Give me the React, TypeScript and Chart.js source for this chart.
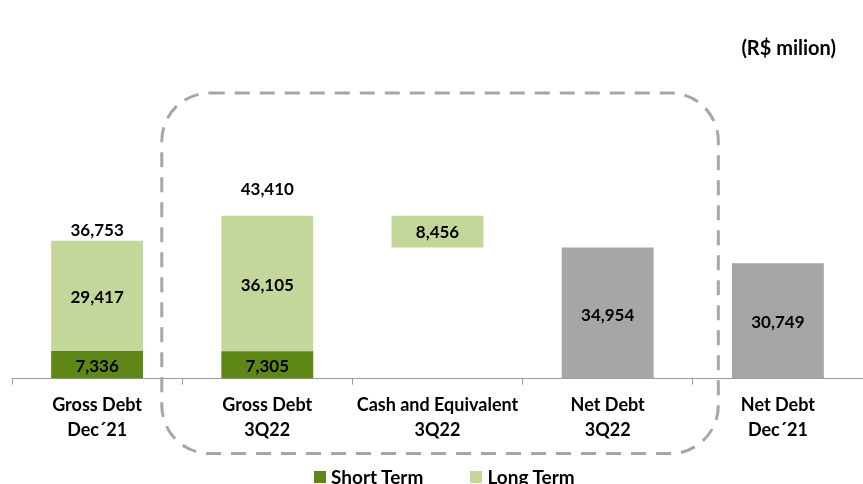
import React, { useEffect, useRef } from "react";
import { Chart, registerables } from "chart.js";

Chart.register(...registerables);

const categories: string[][] = [
  ["Gross Debt", "Dec´21"],
  ["Gross Debt", "3Q22"],
  ["Cash and Equivalent", "3Q22"],
  ["Net Debt", "3Q22"],
  ["Net Debt", "Dec´21"],
];
const shortTerm: (number | null)[] = [7336, 7305, null, null, null];
const longTerm: (number | null)[] = [29417, 36105, null, null, null];
const cashAndEquivalent = 8456;
const netDebt: (number | null)[] = [null, null, null, 34954, 30749];
const grossTotals: (number | null)[] = [36753, 43410, null, null, null];

const DARK_GREEN = "#5E8717";
const LIGHT_GREEN = "#C4D79B";
const GRAY = "#A6A6A6";
const FONT = "Lato, 'Open Sans', sans-serif";

const fmt = (v: number) => v.toLocaleString("en-US");

export default function App() {
  const ref = useRef<HTMLCanvasElement | null>(null);

  useEffect(() => {
    document.body.style.margin = "0";
    const canvas = ref.current;
    if (!canvas) return;

    const longSegments: any[] = categories.map((_, i) => {
      if (shortTerm[i] != null && longTerm[i] != null) {
        return [shortTerm[i] as number, (shortTerm[i] as number) + (longTerm[i] as number)];
      }
      if (i === 2) {
        const top = grossTotals[1] as number;
        return [top - cashAndEquivalent, top];
      }
      return null;
    });
    const shortSegments: any[] = shortTerm.map((v) => (v == null ? null : [0, v]));

    const labelsPlugin = {
      id: "valueLabels",
      afterDatasetsDraw(chart: any) {
        const ctx = chart.ctx;
        const x = chart.scales.x;
        const y = chart.scales.y;
        ctx.save();
        ctx.fillStyle = "#000";
        ctx.font = `bold 17px ${FONT}`;
        ctx.textAlign = "center";
        ctx.textBaseline = "middle";
        categories.forEach((_, i) => {
          const cx = x.getPixelForValue(i);
          const s = shortTerm[i];
          const l = longTerm[i];
          if (s != null) ctx.fillText(fmt(s), cx, y.getPixelForValue(s / 2) + 2);
          if (s != null && l != null) ctx.fillText(fmt(l), cx, y.getPixelForValue(s + l / 2) + 2);
          const t = grossTotals[i];
          if (t != null) {
            const lift = i === 1 ? 26 : 10;
            ctx.fillText(fmt(t), cx, y.getPixelForValue(t) - lift);
          }
          if (i === 2) {
            const top = grossTotals[1] as number;
            ctx.fillText(fmt(cashAndEquivalent), cx, y.getPixelForValue(top - cashAndEquivalent / 2) + 1);
          }
          const n = netDebt[i];
          if (n != null) ctx.fillText(fmt(n), cx, y.getPixelForValue(n / 2) + 2);
        });
        ctx.restore();
      },
    };

    const framePlugin = {
      id: "dashedFrame",
      afterDraw(chart: any) {
        const ctx = chart.ctx;
        const x = chart.scales.x;
        const area = chart.chartArea;
        const w = x.getPixelForValue(1) - x.getPixelForValue(0);
        const left = x.getPixelForValue(1) - 0.62 * w;
        const right = x.getPixelForValue(3) + 0.65 * w;
        const top = area.top - 98;
        const bottom = area.bottom + 75;
        const r = 48;
        ctx.save();
        ctx.strokeStyle = GRAY;
        ctx.lineWidth = 3;
        ctx.setLineDash([15, 10]);
        ctx.beginPath();
        ctx.moveTo(left + r, top);
        ctx.lineTo(right - r, top);
        ctx.arcTo(right, top, right, top + r, r);
        ctx.lineTo(right, bottom - r);
        ctx.arcTo(right, bottom, right - r, bottom, r);
        ctx.lineTo(left + r, bottom);
        ctx.arcTo(left, bottom, left, bottom - r, r);
        ctx.lineTo(left, top + r);
        ctx.arcTo(left, top, left + r, top, r);
        ctx.closePath();
        ctx.stroke();
        ctx.restore();
      },
    };

    const chart = new Chart(canvas, {
      type: "bar",
      data: {
        labels: categories,
        datasets: [
          { label: "Short Term", data: shortSegments, backgroundColor: DARK_GREEN, grouped: false } as any,
          { label: "Long Term", data: longSegments, backgroundColor: LIGHT_GREEN, grouped: false } as any,
          { label: "Net Debt", data: netDebt, backgroundColor: GRAY, grouped: false } as any,
        ],
      },
      options: {
        animation: false,
        responsive: false,
        maintainAspectRatio: false,
        datasets: { bar: { barPercentage: 0.54, categoryPercentage: 1 } },
        layout: { padding: { left: 12, right: 0, top: 191, bottom: 33 } },
        plugins: {
          legend: { display: false },
          tooltip: { enabled: false },
          title: { display: false },
        },
        scales: {
          x: {
            grid: {
              offset: true,
              drawOnChartArea: false,
              drawTicks: true,
              tickLength: 6,
              color: "#999999",
            },
            border: { color: "#999999", width: 1 },
            ticks: {
              color: "#000",
              font: { family: FONT, size: 18, weight: "bold", lineHeight: 1.4 },
              padding: 8,
              maxRotation: 0,
              autoSkip: false,
            },
          },
          y: { display: false, min: 0, max: 50000 },
        },
      },
      plugins: [labelsPlugin, framePlugin],
    });
    return () => chart.destroy();
  }, []);

  const legendItem = (color: string, text: string) => (
    <span style={{ display: "inline-flex", alignItems: "center", gap: 5 }}>
      <span style={{ display: "inline-block", width: 12, height: 12, background: color }} />
      <span>{text}</span>
    </span>
  );

  return (
    <div style={{ position: "relative", width: 863, height: 484, fontFamily: FONT }}>
      <canvas ref={ref} width={863} height={484} style={{ display: "block" }} />
      <div
        style={{
          position: "absolute",
          right: 27,
          top: 35,
          fontSize: 20,
          fontWeight: "bold",
          color: "#000",
          lineHeight: "24px",
        }}
      >
        (R$ milion)
      </div>
      <div
        style={{
          position: "absolute",
          left: 314,
          top: 466,
          display: "flex",
          gap: 47,
          fontSize: 19,
          fontWeight: "bold",
          color: "#000",
          lineHeight: "22px",
          whiteSpace: "nowrap",
        }}
      >
        {legendItem(DARK_GREEN, "Short Term")}
        {legendItem(LIGHT_GREEN, "Long Term")}
      </div>
    </div>
  );
}
